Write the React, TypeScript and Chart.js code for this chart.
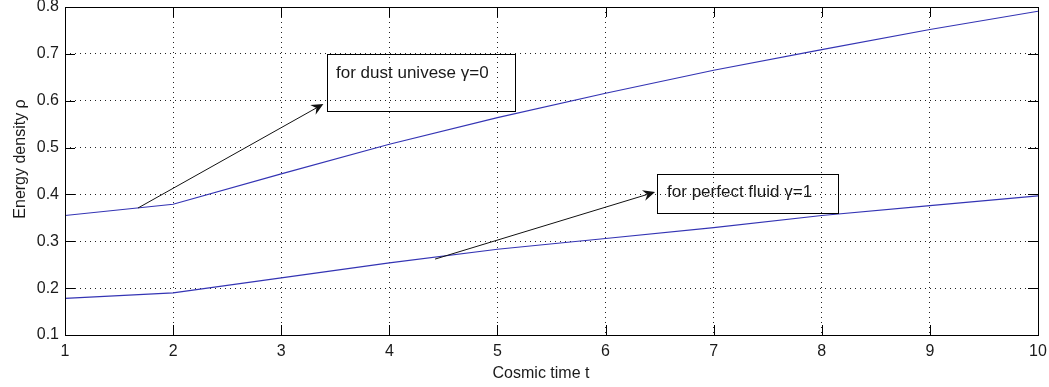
import React, { useEffect, useRef } from 'react';
import { Chart, registerables } from 'chart.js';

Chart.register(...registerables);

// ---- data ----
const timeT = [1, 2, 3, 4, 5, 6, 7, 8, 9, 10];
const dustRho = [0.355, 0.379, 0.444, 0.507, 0.564, 0.616, 0.665, 0.709, 0.752, 0.791];
const fluidRho = [0.178, 0.19, 0.222, 0.254, 0.283, 0.306, 0.329, 0.355, 0.376, 0.397];
const xTicks = [1, 2, 3, 4, 5, 6, 7, 8, 9, 10];
const yTicks = [0.1, 0.2, 0.3, 0.4, 0.5, 0.6, 0.7, 0.8];

const xTitle = 'Cosmic time t';
const yTitle = 'Energy density ρ';

// annotations (data coordinates)
const notes = [
  { text: 'for dust univese γ=0', from: [1.675, 0.371], to: [3.39, 0.593], box: [3.424, 0.7, 5.163, 0.578], textAt: [3.507, 0.6485] },
  { text: 'for perfect fluid γ=1', from: [4.423, 0.262], to: [6.458, 0.405], box: [6.476, 0.4436, 8.151, 0.36], textAt: [6.569, 0.3945] },
];

const FONT = '"Liberation Sans", Arial, sans-serif';
const LINE = '#3434b4';

const decor = {
  id: 'decor',
  afterDraw(chart: any) {
    const { ctx, chartArea: a, scales } = chart;
    const xs = scales.x, ys = scales.y;
    ctx.save();
    // axes box
    ctx.strokeStyle = '#000';
    ctx.lineWidth = 1;
    ctx.strokeRect(Math.round(a.left) + 0.5, Math.round(a.top) + 0.5, Math.round(a.right - a.left), Math.round(a.bottom - a.top));
    // inward ticks on all sides
    const TL = 10;
    ctx.beginPath();
    xTicks.forEach((v) => {
      const px = Math.round(xs.getPixelForValue(v)) + 0.5;
      ctx.moveTo(px, a.bottom); ctx.lineTo(px, a.bottom - TL);
      ctx.moveTo(px, a.top); ctx.lineTo(px, a.top + TL);
    });
    yTicks.forEach((v) => {
      const py = Math.round(ys.getPixelForValue(v)) + 0.5;
      ctx.moveTo(a.left, py); ctx.lineTo(a.left + TL, py);
      ctx.moveTo(a.right, py); ctx.lineTo(a.right - TL, py);
    });
    ctx.stroke();

    // axis titles
    ctx.fillStyle = '#1a1a1a';
    ctx.font = `16px ${FONT}`;
    ctx.textAlign = 'center';
    ctx.textBaseline = 'alphabetic';
    ctx.fillText(xTitle, 541, 378);
    ctx.save();
    ctx.translate(25, 159);
    ctx.rotate(-Math.PI / 2);
    ctx.fillText(yTitle, 0, 0);
    ctx.restore();

    // annotations
    notes.forEach((n) => {
      const x0 = xs.getPixelForValue(n.from[0]), y0 = ys.getPixelForValue(n.from[1]);
      const x1 = xs.getPixelForValue(n.to[0]), y1 = ys.getPixelForValue(n.to[1]);
      const ang = Math.atan2(y1 - y0, x1 - x0);
      const L = 12, W = 5.5, IN = 8;
      const bx = x1 - L * Math.cos(ang), by = y1 - L * Math.sin(ang);
      const ix = x1 - IN * Math.cos(ang), iy = y1 - IN * Math.sin(ang);
      ctx.strokeStyle = '#111';
      ctx.fillStyle = '#111';
      ctx.lineWidth = 1;
      ctx.beginPath();
      ctx.moveTo(x0, y0);
      ctx.lineTo(ix, iy);
      ctx.stroke();
      ctx.beginPath();
      ctx.moveTo(x1, y1);
      ctx.lineTo(bx + W * Math.sin(ang), by - W * Math.cos(ang));
      ctx.lineTo(ix, iy);
      ctx.lineTo(bx - W * Math.sin(ang), by + W * Math.cos(ang));
      ctx.closePath();
      ctx.fill();

      const l = Math.round(xs.getPixelForValue(n.box[0])) + 0.5;
      const t = Math.round(ys.getPixelForValue(n.box[1])) + 0.5;
      const r = Math.round(xs.getPixelForValue(n.box[2])) + 0.5;
      const b = Math.round(ys.getPixelForValue(n.box[3])) + 0.5;
      ctx.strokeStyle = '#000';
      ctx.strokeRect(l, t, r - l, b - t);
      ctx.fillStyle = '#1a1a1a';
      ctx.font = `17px ${FONT}`;
      ctx.textAlign = 'left';
      ctx.textBaseline = 'alphabetic';
      ctx.fillText(n.text, xs.getPixelForValue(n.textAt[0]), ys.getPixelForValue(n.textAt[1]));
    });
    ctx.restore();
  },
};

export default function App() {
  const ref = useRef<HTMLCanvasElement | null>(null);
  useEffect(() => {
    document.body.style.margin = '0';
    const canvas = ref.current!;
    const chart = new Chart(canvas, {
      type: 'line',
      data: {
        datasets: [
          { label: 'dust', data: timeT.map((t, i) => ({ x: t, y: dustRho[i] })), borderColor: LINE, borderWidth: 1.2, pointRadius: 0, tension: 0 },
          { label: 'fluid', data: timeT.map((t, i) => ({ x: t, y: fluidRho[i] })), borderColor: LINE, borderWidth: 1.2, pointRadius: 0, tension: 0 },
        ],
      },
      options: {
        responsive: false,
        animation: false,
        events: [],
        layout: { padding: { left: 0, top: 7, right: 11, bottom: 0 } },
        plugins: { legend: { display: false }, tooltip: { enabled: false } },
        scales: {
          x: {
            type: 'linear',
            min: 1,
            max: 10,
            afterBuildTicks: (s: any) => { s.ticks = xTicks.map((v) => ({ value: v })); },
            afterFit: (s: any) => { s.height = 52; s.paddingLeft = 0; s.paddingRight = 0; },
            ticks: { padding: 7, color: '#1a1a1a', font: { family: FONT, size: 16 }, maxRotation: 0, autoSkip: false, callback: (v: any) => String(v) },
            grid: { color: '#222', lineWidth: 1, drawTicks: false },
            border: { display: false, dash: [1, 4] },
          },
          y: {
            type: 'linear',
            min: 0.1,
            max: 0.8,
            afterBuildTicks: (s: any) => { s.ticks = yTicks.map((v) => ({ value: v })); },
            afterFit: (s: any) => { s.width = 65; s.paddingTop = 0; s.paddingBottom = 0; },
            ticks: { padding: 6, color: '#1a1a1a', font: { family: FONT, size: 16 }, autoSkip: false, callback: (v: any) => Number(v).toFixed(1) },
            grid: { color: '#222', lineWidth: 1, drawTicks: false },
            border: { display: false, dash: [1, 4] },
          },
        },
      },
      plugins: [decor],
    });
    return () => chart.destroy();
  }, []);
  return (
    <div style={{ width: 1049, height: 387, background: '#fff' }}>
      <canvas ref={ref} width={1049} height={387} style={{ display: 'block' }} />
    </div>
  );
}
